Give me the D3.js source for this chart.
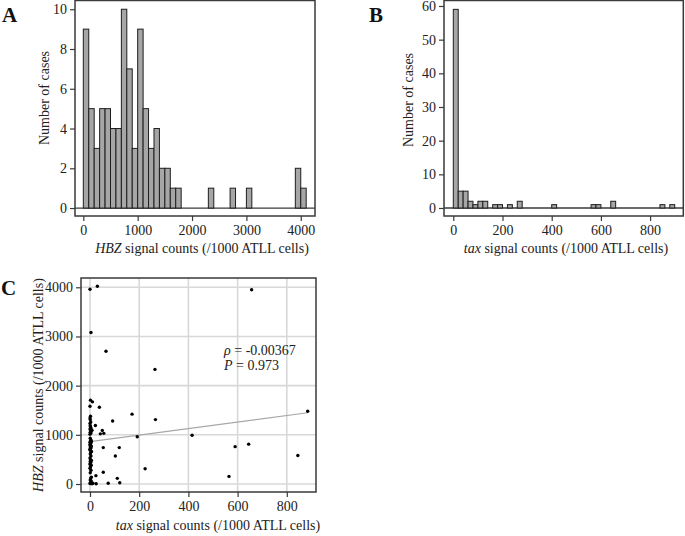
<!DOCTYPE html>
<html><head><meta charset="utf-8">
<script src="https://cdn.jsdelivr.net/npm/d3@7"></script>
<style>
html,body{margin:0;padding:0;background:#fff;}
svg{display:block;font-family:"Liberation Serif","Times New Roman",serif;}
</style></head>
<body>
<svg id="chart" width="685" height="536"></svg>
<script>
// ---- Data ----
// Panel A: HBZ histogram (bin width 100)
const hbzBinStarts = [0,100,200,300,400,500,600,700,800,900,1000,1100,1200,1300,1400,1500,1600,1700,2300,2700,3000,3900,4000];
const hbzCounts    = [9,5,3,5,5,4,4,10,7,3,9,5,3,4,2,2,1,1,1,1,1,2,1];
const hbzBinWidth = 100;
const hbzTicks = [0,1000,2000,3000,4000];
const countTicksA = [0,2,4,6,8,10];

// Panel B: tax histogram (bin width 20)
const taxBinStarts = [0,20,40,60,80,100,120,160,180,220,260,400,560,580,640,840,880];
const taxCounts    = [59,5,5,2,1,2,2,1,1,1,2,1,1,1,2,1,1];
const taxBinWidth = 20;
const taxTicks = [0,200,400,600,800];
const countTicksB = [0,10,20,30,40,50,60];

// Panel C: scatter (tax, HBZ) per case
const caseTax = [30,657,65,264,885,171,266,92,38,415,192,50,56,42,22,54,119,103,590,645,845,224,565,54,24,111,121,74,25,
  0,2,5,8,12,1, 3,6, 1,4, 0,2,5,1, 0,3,1,6,2, 0,4, 1,3,6,0, 0,2,4,1,5,3,0, 1,3,0,6,2,4, 1, 0,3,1,5,2,8, 0,4,2,1, 0,3, 1,0,2, 0, 10, 2, 4, 0];
const caseHBZ = [4020,3950,2700,2330,1480,1420,1310,1280,1560,990,960,1090,1030,1020,1190,740,740,570,760,810,580,310,155,240,170,115,25,15,5,
  10,30,60,5,15,80, 120,140, 230,280, 320,350,380,395, 410,440,460,480,495, 530,570, 610,640,660,690, 705,720,735,750,770,780,795, 810,830,850,865,880,895, 930, 1010,1030,1050,1070,1085,1095, 1120,1140,1165,1185, 1230,1260, 1310,1340,1380, 1580, 1670, 1705, 3080, 3960];
const fitIntercept = 860, fitSlope = 0.665;
const taxTicksC = [0,200,400,600,800];
const hbzTicksC = [0,1000,2000,3000,4000];

// ---- Drawing ----
const svg = d3.select("#chart");
const frameColor = "#3a3a3a";
const fontSize = 14;

function frame(g, x, y) {
  const [x0,x1] = x.range(), [y0,y1] = y.range();
  g.append("rect").attr("x",x0).attr("y",y1).attr("width",x1-x0).attr("height",y0-y1)
    .attr("fill","none").attr("stroke",frameColor).attr("stroke-width",1.5);
}
function axes(g, x, y, xt, yt) {
  const xa = d3.axisBottom(x).tickValues(xt).tickSize(5).tickPadding(4).tickFormat(d3.format("d"));
  const ya = d3.axisLeft(y).tickValues(yt).tickSize(5).tickPadding(3).tickFormat(d3.format("d"));
  const gx = g.append("g").attr("transform",`translate(0,${y.range()[0]})`).call(xa);
  const gy = g.append("g").attr("transform",`translate(${x.range()[0]},0)`).call(ya);
  [gx,gy].forEach(a=>{
    a.select(".domain").remove();
    a.selectAll("line").attr("stroke",frameColor).attr("stroke-width",1.2);
    a.selectAll("text").attr("font-size",fontSize).attr("fill","#222").attr("font-family","Liberation Serif");
  });
}
function xTitle(g, cx, y, ital, rest) {
  const t = g.append("text").attr("x",cx).attr("y",y).attr("text-anchor","middle").attr("font-size",fontSize).attr("fill","#222");
  t.append("tspan").attr("font-style","italic").text(ital);
  t.append("tspan").text(rest);
}
function yTitle(g, cx, cy, ital, rest) {
  const t = g.append("text").attr("transform",`translate(${cx},${cy}) rotate(-90)`).attr("text-anchor","middle").attr("font-size",fontSize).attr("fill","#222");
  if (ital) t.append("tspan").attr("font-style","italic").text(ital);
  t.append("tspan").text(rest);
}
function panelLabel(x, y, s) {
  svg.append("text").attr("x",x).attr("y",y).attr("font-size",21).attr("font-weight","bold").attr("fill","#111").text(s);
}

function histogram(starts, counts, width, x, y) {
  const g = svg.append("g");
  const bars = starts.map((s,i)=>({s, c:counts[i]}));
  // zero reference line
  g.append("line").attr("x1",x.range()[0]).attr("x2",x.range()[1]).attr("y1",y(0)).attr("y2",y(0))
    .attr("stroke",frameColor).attr("stroke-width",1.3);
  g.selectAll("rect.bar").data(bars).join("rect").attr("class","bar")
    .attr("x",d=>x(d.s)).attr("width",d=>x(d.s+width)-x(d.s))
    .attr("y",d=>y(d.c)).attr("height",d=>y(0)-y(d.c))
    .attr("fill","#a6a6a6").attr("stroke","#1e1e1e").attr("stroke-width",1);
  return g;
}

// Panel A
{
  const x = d3.scaleLinear().domain([-153,4262]).range([75,315]);
  const y = d3.scaleLinear().domain([-0.40,10.44]).range([216,0.5]);
  const g = histogram(hbzBinStarts, hbzCounts, hbzBinWidth, x, y);
  frame(g,x,y);
  axes(g,x,y,hbzTicks,countTicksA);
  xTitle(g,202,253,"HBZ"," signal counts (/1000 ATLL cells)");
  yTitle(g,49,98,null,"Number of cases");
  panelLabel(2,22,"A");
}
// Panel B
{
  const x = d3.scaleLinear().domain([-37.8,934.9]).range([444,683.3]);
  const y = d3.scaleLinear().domain([-2.376,61.63]).range([216,0.5]);
  const g = histogram(taxBinStarts, taxCounts, taxBinWidth, x, y);
  frame(g,x,y);
  axes(g,x,y,taxTicks,countTicksB);
  xTitle(g,566,253,"tax"," signal counts (/1000 ATLL cells)");
  yTitle(g,413,100,null,"Number of cases");
  panelLabel(369,22,"B");
}
// Panel C
{
  const x = d3.scaleLinear().domain([-36.6,918.7]).range([81,316]);
  const y = d3.scaleLinear().domain([-162.7,4189]).range([492,278]);
  const g = svg.append("g");
  g.selectAll("line.gx").data(taxTicksC).join("line").attr("class","gx")
    .attr("x1",d=>x(d)).attr("x2",d=>x(d)).attr("y1",y.range()[0]).attr("y2",y.range()[1])
    .attr("stroke","#d8d8d8").attr("stroke-width",1.6);
  g.selectAll("line.gy").data(hbzTicksC).join("line").attr("class","gy")
    .attr("y1",d=>y(d)).attr("y2",d=>y(d)).attr("x1",x.range()[0]).attr("x2",x.range()[1])
    .attr("stroke","#d8d8d8").attr("stroke-width",1.6);
  const maxTax = d3.max(caseTax);
  g.append("line").attr("x1",x(0)).attr("x2",x(maxTax))
    .attr("y1",y(fitIntercept)).attr("y2",y(fitIntercept+fitSlope*maxTax))
    .attr("stroke","#a8a8a8").attr("stroke-width",1.2);
  const pts = caseTax.map((t,i)=>({t, h:caseHBZ[i]}));
  g.selectAll("circle").data(pts).join("circle")
    .attr("cx",d=>x(d.t)).attr("cy",d=>y(d.h)).attr("r",1.7).attr("fill","#000");
  frame(g,x,y);
  axes(g,x,y,taxTicksC,hbzTicksC);
  xTitle(g,218,530,"tax"," signal counts (/1000 ATLL cells)");
  yTitle(g,43,385,"HBZ"," signal counts (/1000 ATLL cells)");
  const a = g.append("text").attr("x",224).attr("y",355).attr("font-size",fontSize).attr("fill","#222");
  a.append("tspan").attr("font-style","italic").text("ρ");
  a.append("tspan").text(" = -0.00367");
  const b = g.append("text").attr("x",224).attr("y",370).attr("font-size",fontSize).attr("fill","#222");
  b.append("tspan").attr("font-style","italic").text("P");
  b.append("tspan").text(" = 0.973");
  panelLabel(1,295,"C");
}
</script>
</body></html>
